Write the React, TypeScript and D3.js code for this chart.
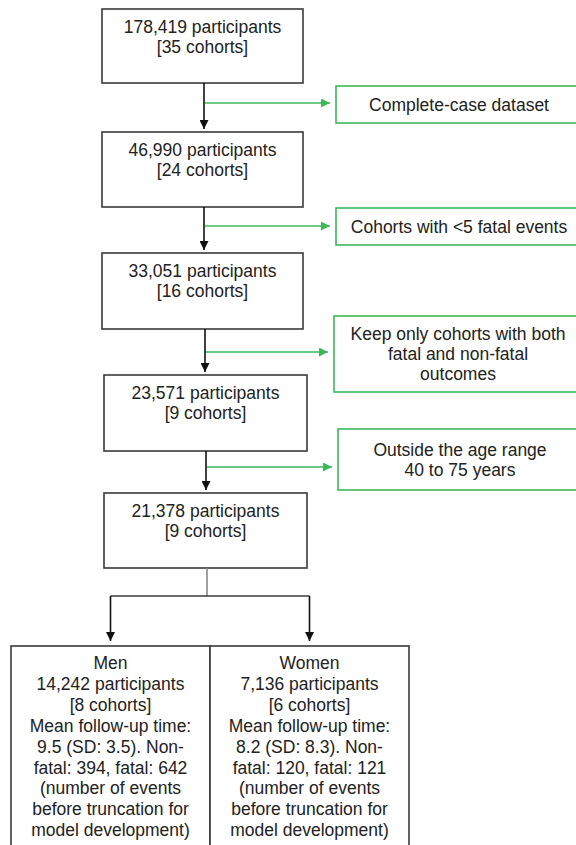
import React from "react";
import { scaleBand } from "d3";

// flow of participants through the exclusion steps
const stepCounts = ["178,419", "46,990", "33,051", "23,571", "21,378"];
const stepCohorts = [35, 24, 16, 9, 9];
const exclusionLines = [
  ["Complete-case dataset"],
  ["Cohorts with <5 fatal events"],
  ["Keep only cohorts with both", "fatal and non-fatal", "outcomes"],
  ["Outside the age range", "40 to 75 years"],
];

// final split by sex
const groups = ["Men", "Women"];
const groupCounts = ["14,242", "7,136"];
const groupCohorts = [8, 6];
const followMean = [9.5, 8.2];
const followSD = [3.5, 8.3];
const nonFatal = [394, 120];
const fatal = [642, 121];

const W = 576;
const H = 845;
const FONT = "'Liberation Sans', Arial, sans-serif";
const FS = 17.5;
const GREEN = "#3cb85a";
const DARK = "#3a3a3a";

// layout of the main column (box tops / bottoms)
const boxTop = [9, 132, 253, 375, 493];
const boxBottom = [83, 207, 329, 451, 568];
const boxLeft = [102, 102, 102, 104, 104];
const boxRight = [303, 303, 303, 307, 307];
const arrowX = [204, 204, 205, 206];
// exclusion boxes
const exTop = [86, 208, 316, 429];
const exBottom = [123, 245, 392, 490];
const exLeft = [336, 336, 334, 338];
const exLineY = [103, 226, 352, 467];

function App() {
  const gx = scaleBand<string>().domain(groups).range([11, 409]);
  const splitY = 596;
  const groupTop = 646;
  const lineGap = 20.9;

  const groupText = (i: number) => [
    groups[i],
    `${groupCounts[i]} participants`,
    `[${groupCohorts[i]} cohorts]`,
    "Mean follow-up time:",
    `${followMean[i]} (SD: ${followSD[i]}). Non-`,
    `fatal: ${nonFatal[i]}, fatal: ${fatal[i]}`,
    "(number of events",
    "before truncation for",
    "model development)",
  ];

  return (
    <svg
      width={W}
      height={H}
      style={{ position: "absolute", left: 0, top: 0, background: "#fff" }}
      fontFamily={FONT}
      fontSize={FS}
    >
      <defs>
        <marker id="ab" viewBox="0 0 10 10" refX="10" refY="5" markerWidth="9" markerHeight="9" markerUnits="userSpaceOnUse" orient="auto">
          <path d="M0,0L10,5L0,10z" fill="#111" />
        </marker>
        <marker id="ag" viewBox="0 0 10 10" refX="10" refY="5" markerWidth="9" markerHeight="9" markerUnits="userSpaceOnUse" orient="auto">
          <path d="M0,0L10,5L0,10z" fill={GREEN} />
        </marker>
      </defs>
      <rect width={W} height={H} fill="#fff" />

      {/* main boxes */}
      {stepCounts.map((c, i) => {
        const cx = (boxLeft[i] + boxRight[i]) / 2;
        return (
          <g key={"b" + i}>
            <rect
              x={boxLeft[i]}
              y={boxTop[i]}
              width={boxRight[i] - boxLeft[i]}
              height={boxBottom[i] - boxTop[i]}
              fill="#fff"
              stroke={DARK}
              strokeWidth={1.6}
            />
            <text x={cx} y={boxTop[i] + 23.5} textAnchor="middle" fill="#222">
              {c} participants
            </text>
            <text x={cx} y={boxTop[i] + 43.5} textAnchor="middle" fill="#222">
              [{stepCohorts[i]} cohorts]
            </text>
          </g>
        );
      })}

      {/* arrows + exclusions */}
      {exclusionLines.map((lines, i) => {
        const ax = arrowX[i];
        const cx = (exLeft[i] + 582) / 2;
        const n = lines.length;
        const mid = (exTop[i] + exBottom[i]) / 2;
        return (
          <g key={"e" + i}>
            <line x1={ax} x2={ax} y1={boxBottom[i]} y2={boxTop[i + 1] - 3} stroke="#111" strokeWidth={1.6} markerEnd="url(#ab)" />
            <line x1={ax + 1} x2={exLeft[i] - 6} y1={exLineY[i]} y2={exLineY[i]} stroke={GREEN} strokeWidth={1.6} markerEnd="url(#ag)" />
            <rect
              x={exLeft[i]}
              y={exTop[i]}
              width={582 - exLeft[i]}
              height={exBottom[i] - exTop[i]}
              fill="#fff"
              stroke={GREEN}
              strokeWidth={1.6}
            />
            {lines.map((t, j) => (
              <text
                key={j}
                x={cx}
                y={mid + (j - (n - 1) / 2) * 20 + 6}
                textAnchor="middle"
                fill="#222"
              >
                {t}
              </text>
            ))}
          </g>
        );
      })}

      {/* split into men and women */}
      <line x1={207} x2={207} y1={boxBottom[4]} y2={splitY} stroke="#888" strokeWidth={1.6} />
      <line
        x1={gx(groups[0])! + gx.bandwidth() / 2}
        x2={gx(groups[1])! + gx.bandwidth() / 2}
        y1={splitY}
        y2={splitY}
        stroke={DARK}
        strokeWidth={1.6}
      />
      {groups.map((g, i) => {
        const x0 = gx(g)!;
        const cx = x0 + gx.bandwidth() / 2;
        return (
          <g key={g}>
            <line x1={cx} x2={cx} y1={splitY} y2={641} stroke="#111" strokeWidth={1.6} markerEnd="url(#ab)" />
            <rect
              x={x0}
              y={groupTop}
              width={gx.bandwidth()}
              height={H - groupTop + 10}
              fill="#fff"
              stroke={DARK}
              strokeWidth={1.6}
            />
            {groupText(i).map((t, j) => (
              <text key={j} x={cx} y={669 + j * lineGap} textAnchor="middle" fill="#222">
                {t}
              </text>
            ))}
          </g>
        );
      })}
    </svg>
  );
}

export default App;
